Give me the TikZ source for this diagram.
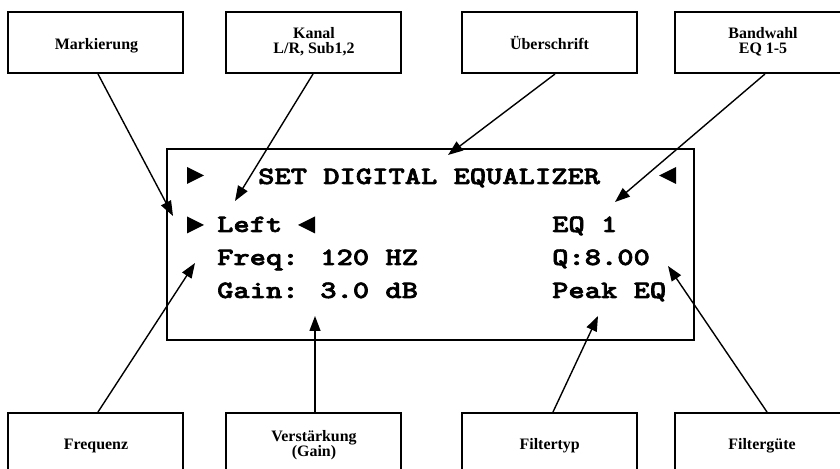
\documentclass[tikz,border=0pt]{standalone}
\usepackage{fontspec}
\setmainfont{Liberation Serif}
\newfontfamily\lcdfont{lmmonolt10-bold.otf}[FakeBold=2.2]
\usetikzlibrary{arrows.meta,calc}
\newcommand{\lcdtext}[1]{\scalebox{1.245}[1]{#1}}
\begin{document}
\begin{tikzpicture}[x=1bp,y=-1bp,
  lbox/.style={draw,line width=2bp,minimum width=175bp,minimum height=61bp,inner sep=0},
  lbl/.style={anchor=base,inner sep=0,font=\bfseries\fontsize{16}{16}\selectfont},
  lcd/.style={anchor=base west,inner sep=0,font=\lcdfont\fontsize{25}{25}\selectfont},
  ptr/.style={line width=1.4bp,-{Triangle[length=15bp,width=11bp]}},
  disp/.style={draw,line width=2bp,minimum width=527bp,minimum height=191bp,inner sep=0}]
\useasboundingbox (0,0) rectangle (840,469);

% label boxes
\node[lbox] (mark)  at (95.5,42.5) {};
\node[lbox] (kanal) at (313,42.5) {};
\node[lbox] (ueber) at (549.5,42.5) {};
\node[lbox] (band)  at (762.5,42.5) {};
\node[lbox] (freq)  at (95.5,443.5) {};
\node[lbox] (gain)  at (313,443.5) {};
\node[lbox] (ftyp)  at (549.5,443.5) {};
\node[lbox] (fgue)  at (762.5,443.5) {};

% label texts
\node[lbl] (markT)  at (96.5,50) {Markierung};
\node[lbl] (kanalT) at (314,39) {Kanal};
\node[lbl] (kanalU) at (314,53.3) {L/R, Sub1,2};
\node[lbl] (ueberT) at (549.5,50) {Überschrift};
\node[lbl] (bandT)  at (763,39) {Bandwahl};
\node[lbl] (bandU)  at (763,53.3) {EQ 1-5};
\node[lbl] (freqT)  at (96,449.3) {Frequenz};
\node[lbl] (gainT)  at (314,441.5) {Verstärkung};
\node[lbl] (gainU)  at (314,456) {(Gain)};
\node[lbl] (ftypT)  at (549.7,449.3) {Filtertyp};
\node[lbl] (fgueT)  at (762,449.3) {Filtergüte};

% display
\node[disp] (lcd) at (430.5,244.5) {};
\node[lcd] (title) at (258,184) {\lcdtext{SET DIGITAL EQUALIZER}};
\node[lcd] (left)  at (217,232) {\lcdtext{Left}};
\node[lcd] (fq)    at (217,265) {\lcdtext{Freq: 120 HZ}};
\node[lcd] (gn)    at (217,298) {\lcdtext{Gain: 3.0 dB}};
\node[lcd] (eq)    at (552,232) {\lcdtext{EQ 1}};
\node[lcd] (qv)    at (552,265) {\lcdtext{Q:8.00}};
\node[lcd] (pk)    at (552,298) {\lcdtext{Peak EQ}};

% marker triangles
\fill (187,167) -- (204,175.5) -- (187,184) -- cycle;
\fill (676,167) -- (659,175.5) -- (676,184) -- cycle;
\fill (187,216.5) -- (204,225) -- (187,233.5) -- cycle;
\fill (315,216.5) -- (298,225) -- (315,233.5) -- cycle;

% arrow tips
\coordinate (tA) at (173,216);
\coordinate (tB) at (235,201);
\coordinate (tC) at (448,155);
\coordinate (tD) at (615,202);
\coordinate (tE) at (195,263);
\coordinate (tF) at (315,316);
\coordinate (tG) at (598,316);
\coordinate (tH) at (668,266);

% connectors
\draw[ptr] ($(mark.south)+(2.5,0)$) -- (tA);
\draw[ptr] (kanal.south) -- (tB);
\draw[ptr] ($(ueber.south)+(5.5,0)$) -- (tC);
\draw[ptr] ($(band.south)+(2.5,0)$) -- (tD);
\draw[ptr] ($(freq.north)+(2.5,0)$) -- (tE);
\draw[ptr] ($(gain.north)+(2,0)$) -- (tF);
\draw[ptr] ($(ftyp.north)+(3.5,0)$) -- (tG);
\draw[ptr] ($(fgue.north)+(4.5,0)$) -- (tH);
\end{tikzpicture}
\end{document}
